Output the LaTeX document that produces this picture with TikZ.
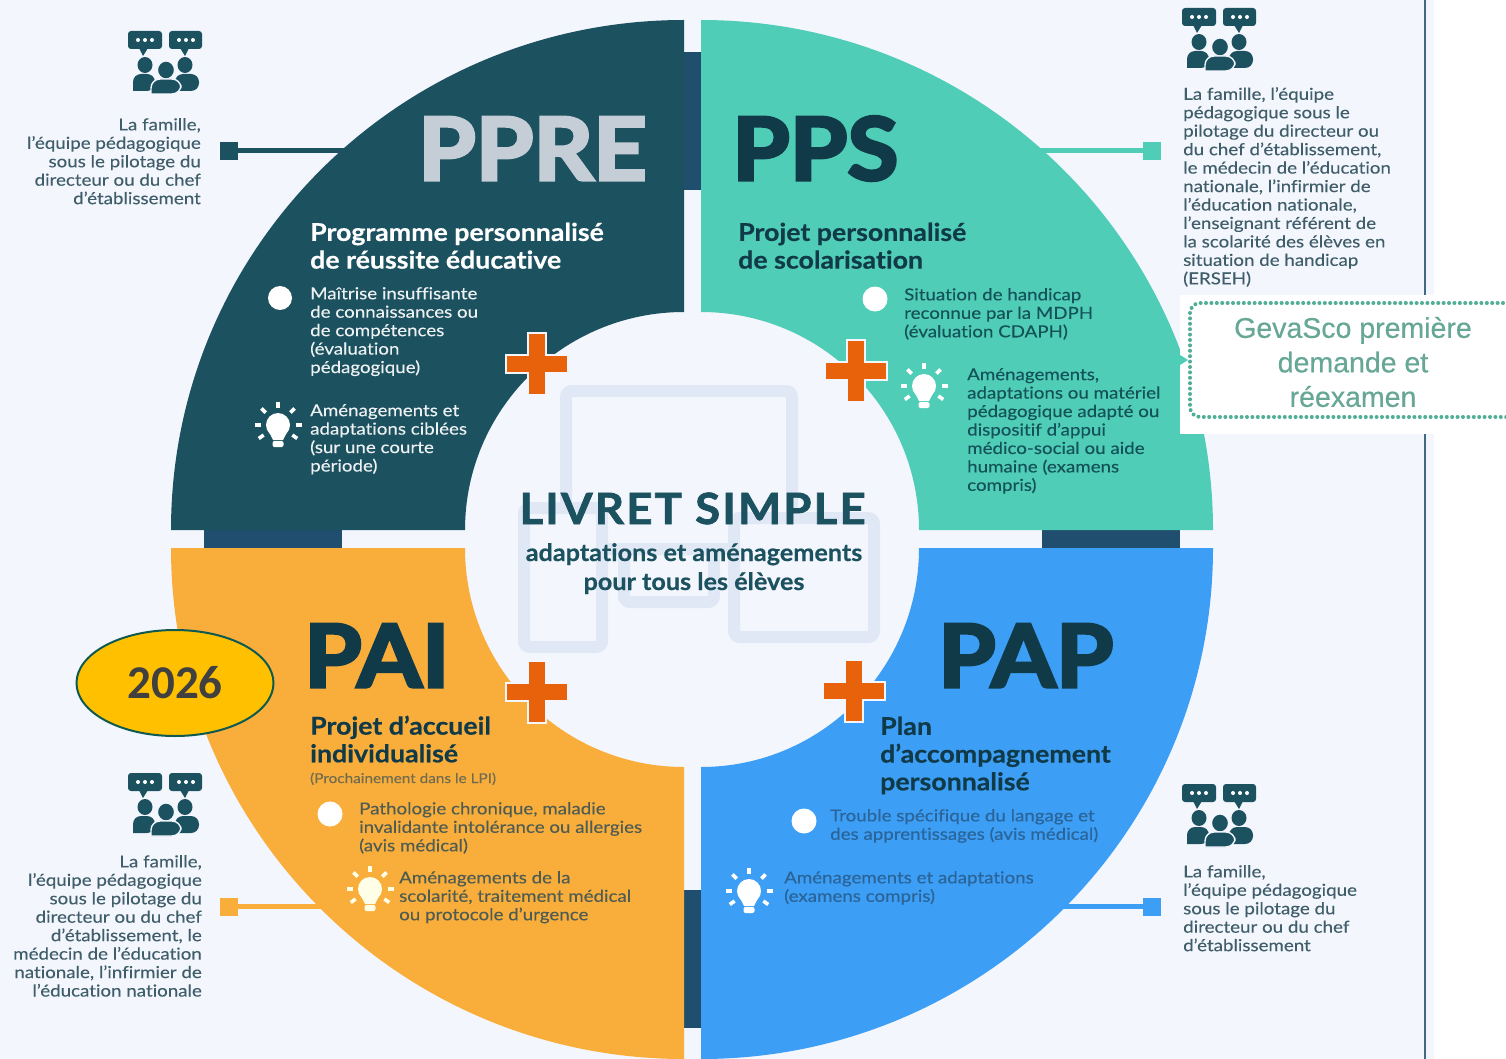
\documentclass[tikz,border=0pt]{standalone}
\usepackage{fontspec}
\usetikzlibrary{shapes.geometric}
\setmainfont{Lato}[FakeStretch=1.135,FakeBold=0.2,Ligatures=NoCommon]
\newfontfamily\liberation[FakeBold=0.4]{Liberation Sans}
\newfontfamily\carlito{Carlito}
\newfontfamily\heavyfont[FakeBold=3.6,FakeStretch=1.07,Ligatures=NoCommon]{Lato Bold}
\newfontfamily\headfont[FakeStretch=1.09,FakeBold=0.5,Ligatures=NoCommon]{Lato Bold}
\newfontfamily\livretfont[FakeBold=1.6,FakeStretch=1.06,LetterSpace=5,Ligatures=NoCommon]{Lato Bold}
\newfontfamily\subfont[FakeStretch=1.05,FakeBold=0.5,Ligatures=NoCommon]{Lato Bold}
\definecolor{bgc}{HTML}{F3F6FD}
\definecolor{ppre}{HTML}{1C5160}
\definecolor{pps}{HTML}{4FCDB6}
\definecolor{pai}{HTML}{F9AE3C}
\definecolor{pap}{HTML}{3C9EF5}
\definecolor{navy}{HTML}{1F4E6E}
\definecolor{wm}{HTML}{E0E7F5}
\definecolor{crossc}{HTML}{E8620C}
\definecolor{sidetxt}{HTML}{3F5E6A}
\definecolor{titledark}{HTML}{113A48}
\definecolor{ppstxt}{HTML}{14525A}
\definecolor{paitxt}{HTML}{4F5C52}
\definecolor{paptxt}{HTML}{2A6498}
\definecolor{geva}{HTML}{66A795}
\definecolor{gevaline}{HTML}{4FAE97}
\definecolor{pprelight}{HTML}{C5CED6}
\definecolor{yearfill}{HTML}{FFC000}
\definecolor{yearline}{HTML}{0F5A50}
\definecolor{yeartxt}{HTML}{404040}
\tikzset{
  x=1pt,y=1pt,
  txt/.style={inner sep=0pt,text=sidetxt,font=\fontsize{16.5}{18.45}\selectfont,execute at begin node=\strut},
  lefttxt/.style={txt,anchor=north west,align=left},
  righttxt/.style={txt,anchor=north east,align=right},
  headtxt/.style={inner sep=0pt,anchor=north west,align=left,font=\fontsize{24.5}{27.7}\headfont,execute at begin node=\strut},
  bigtitle/.style={inner sep=0pt,anchor=base west,font=\fontsize{87}{87}\heavyfont},
  sq/.style={minimum size=18pt,inner sep=0pt,draw=none},
  link/.style={line width=5pt},
  wmbox/.style={draw=wm,line width=12pt,rounded corners=6pt},
}
\newcommand{\peopleicon}[2]{%
\begin{scope}[shift={(#1,#2)}]
 \fill[ppre,rounded corners=3pt] (0,0) rectangle (34,-18);
 \fill[ppre] (11,-17)--(20,-17)--(15,-25)--cycle;
 \fill[ppre,rounded corners=3pt] (41,0) rectangle (74,-18);
 \fill[ppre] (52,-17)--(61,-17)--(57,-25)--cycle;
 \foreach \u in {10,17,24,51,58,65} \fill[white] (\u,-9) circle (2);
 \fill[ppre] (17,-34) ellipse [x radius=7.5,y radius=8];
 \fill[ppre] (57,-34) ellipse [x radius=7.5,y radius=8];
 \fill[ppre] (5,-60) [rounded corners=8pt] -- (5,-43) -- (27,-43) -- (27,-60) [sharp corners] -- cycle;
 \fill[ppre] (47,-60) [rounded corners=8pt] -- (47,-43) -- (71,-43) -- (71,-60) [sharp corners] -- cycle;
 \filldraw[fill=ppre,draw=bgc,line width=1.2pt] (38,-39) ellipse [x radius=8.5,y radius=9];
 \filldraw[fill=ppre,draw=bgc,line width=1.4pt] (23,-63) [rounded corners=9pt] -- (23,-48) -- (53,-48) -- (53,-63) [sharp corners] -- cycle;
\end{scope}}
\newcommand{\bulbicon}[3]{%
\begin{scope}[shift={(#1,#2)}]
 \foreach \a in {0,180,90,45,135,-35,-145}
   \draw[#3,line width=3.6pt] (\a:17.5) -- (\a:23.5);
 \fill[#3] (0,0) circle (12);
 \fill[#3] (-9,-7)--(9,-7)--(5,-15)--(-5,-15)--cycle;
 \fill[#3,rounded corners=2pt] (-5.5,-16) rectangle (5.5,-22);
\end{scope}}
\newcommand{\plusmark}[2]{%
\filldraw[shift={(#1,#2)},fill=crossc,draw=bgc,line width=2.6pt]
 (-9,31)--(9,31)--(9,9)--(31,9)--(31,-9)--(9,-9)--(9,-31)--(-9,-31)--(-9,-9)--(-31,-9)--(-31,9)--(-9,9)--cycle;}
\begin{document}
\begin{tikzpicture}
\useasboundingbox (0,0) rectangle (1506,-1059);
\fill[bgc] (0,0) rectangle (1506,-1059);
\fill[white] (1434,0) rectangle (1506,-1059);
\draw[navy!85,line width=2pt] (1424.5,0) -- (1424.5,-1059);

% bars between the quadrants
\fill[navy] (684,-52) rectangle (701,-190);
\fill[navy] (684,-890) rectangle (701,-1028);
\fill[navy] (204,-530) rectangle (342,-548);
\fill[navy] (1042,-530) rectangle (1180,-548);

% connectors
\node[sq,fill=ppre] (sqA) at (229,-151) {};
\coordinate (endA) at (360,-151);
\draw[link,ppre] (sqA) -- (endA);
\node[sq,fill=pps] (sqB) at (1152,-151) {};
\coordinate (endB) at (1030,-151);
\draw[link,pps] (sqB) -- (endB);
\node[sq,fill=pai] (sqC) at (229,-906.5) {};
\coordinate (endC) at (335,-906.5);
\draw[link,pai] (sqC) -- (endC);
\node[sq,fill=pap] (sqD) at (1152,-906.5) {};
\coordinate (endD) at (1050,-906.5);
\draw[link,pap] (sqD) -- (endD);

% quadrants
\fill[ppre] (171,-530) arc[start angle=180,end angle=90,x radius=513,y radius=510]
  -- (684,-312) arc[start angle=90,end angle=180,x radius=219,y radius=218] -- cycle;
\fill[pps] (701,-20) arc[start angle=90,end angle=0,x radius=512,y radius=510]
  -- (919,-530) arc[start angle=0,end angle=90,x radius=218,y radius=218] -- cycle;
\fill[pai] (171,-548) arc[start angle=180,end angle=270,x radius=513,y radius=511]
  -- (684,-767) arc[start angle=270,end angle=180,x radius=219,y radius=219] -- cycle;
\fill[pap] (701,-1059) arc[start angle=270,end angle=360,x radius=512,y radius=511]
  -- (919,-548) arc[start angle=0,end angle=-90,x radius=218,y radius=219] -- cycle;

% watermark in the centre
\draw[wmbox] (566,-391) rectangle (792,-549);
\draw[wmbox] (624,-549) rectangle (714,-602);
\filldraw[wmbox,fill=bgc] (524,-508) rectangle (602,-647);
\filldraw[wmbox,fill=bgc] (734,-518) rectangle (874,-637);

% plus marks
\plusmark{537}{-364}
\plusmark{856}{-371}
\plusmark{537}{-692}
\plusmark{854}{-691}

% big titles
\node[bigtitle,text=pprelight] (tPPRE) at (418,-180) {PPRE};
\node[bigtitle,text=titledark] (tPPS) at (732,-180) {PPS};
\node[bigtitle,text=titledark] (tPAI) at (304,-687) {PAI};
\node[bigtitle,text=titledark] (tPAP) at (938,-687) {PAP};

% headings
\node[headtxt,text=white] (hPPRE) at (310,-222.5) {Programme personnalisé\\de réussite éducative};
\node[headtxt,text=titledark] (hPPS) at (738,-222.5) {Projet personnalisé\\de scolarisation};
\node[headtxt,text=titledark] (hPAI) at (310,-715.5) {Projet d’accueil\\individualisé};
\node[headtxt,text=titledark] (hPAP) at (880,-716.5) {Plan\\d’accompagnement\\personnalisé};
\node[inner sep=0pt,anchor=base west,text=paitxt!80!pai,font=\fontsize{13.5}{15}\selectfont] (nPAI) at (310,-783) {(Prochainement dans le LPI)};

% PPRE
\node[fill=white,circle,minimum size=24pt,inner sep=0pt] (bA) at (280,-298) {};
\node[lefttxt,text=white!92!ppre] (aA) at (310,-287) {Maîtrise insuffisante\\de connaissances ou\\de compétences\\(évaluation\\pédagogique)};
\bulbicon{278}{-425}{white}
\node[lefttxt,text=white!92!ppre] (cA) at (310,-404) {Aménagements et\\adaptations ciblées\\(sur une courte\\période)};
% PPS
\node[fill=white,circle,minimum size=25pt,inner sep=0pt] (bB) at (875,-299) {};
\node[lefttxt,text=ppstxt] (aB) at (904,-288) {Situation de handicap\\reconnue par la MDPH\\(évaluation CDAPH)};
\bulbicon{924}{-386}{white}
\node[lefttxt,text=ppstxt] (cB) at (967,-368) {Aménagements,\\adaptations ou matériel\\pédagogique adapté ou\\dispositif d’appui\\médico-social ou aide\\humaine (examens\\compris)};
% PAI
\node[fill=white,circle,minimum size=25pt,inner sep=0pt] (bC) at (330,-814) {};
\node[lefttxt,text=paitxt] (aC) at (359,-802) {Pathologie chronique, maladie\\invalidante intolérance ou allergies\\(avis médical)};
\bulbicon{370}{-889}{white!90!yellow}
\node[lefttxt,text=paitxt] (cC) at (399,-871) {Aménagements de la\\scolarité, traitement médical\\ou protocole d’urgence};
% PAP
\node[fill=white,circle,minimum size=25pt,inner sep=0pt] (bD) at (804,-821) {};
\node[lefttxt,text=paptxt] (aD) at (830,-809) {Trouble spécifique du langage et\\des apprentissages (avis médical)};
\bulbicon{749}{-891}{white}
\node[lefttxt,text=paptxt] (cD) at (784,-871) {Aménagements et adaptations\\(examens compris)};

% people icons and side texts
\peopleicon{128}{-31}
\peopleicon{1182}{-8}
\peopleicon{128}{-773}
\peopleicon{1182}{-784}
\node[righttxt] (sA) at (201,-118) {La famille,\\l’équipe pédagogique\\sous le pilotage du\\directeur ou du chef\\d’établissement};
\node[lefttxt] (sB) at (1183,-87) {La famille, l’équipe\\pédagogique sous le\\pilotage du directeur ou\\du chef d’établissement,\\le médecin de l’éducation\\nationale, l’infirmier de\\l’éducation nationale,\\l’enseignant référent de\\la scolarité des élèves en\\situation de handicap\\(ERSEH)};
\node[righttxt] (sC) at (202,-855) {La famille,\\l’équipe pédagogique\\sous le pilotage du\\directeur ou du chef\\d’établissement, le\\médecin de l’éducation\\nationale, l’infirmier de\\l’éducation nationale};
\node[lefttxt] (sD) at (1183,-865) {La famille,\\l’équipe pédagogique\\sous le pilotage du\\directeur ou du chef\\d’établissement};

% centre text
\node[inner sep=0pt,anchor=base,text=ppre,font=\fontsize{43}{43}\livretfont] (lt) at (692.5,-524) {LIVRET SIMPLE};
\node[inner sep=0pt,anchor=base,text=ppre,font=\fontsize{24}{24}\subfont] (lt2) at (694,-561) {adaptations et aménagements};
\node[inner sep=0pt,anchor=base,text=ppre,font=\fontsize{24}{24}\subfont] (lt3) at (694,-590) {pour tous les élèves};

% GevaSco box
\fill[white] (1180,-295) rectangle (1506,-434);
\fill[pps] (1180,-355) -- (1188,-360) -- (1180,-365) -- cycle;
\draw[gevaline,line width=4pt,line cap=round,dash pattern=on 0pt off 5.4pt,rounded corners=10pt]
  (1530,-303) -- (1190,-303) -- (1190,-417) -- (1530,-417);
\node[inner sep=0pt,align=center,text=geva,font=\fontsize{28.5}{34.5}\liberation] (gv) at (1353,-362) {GevaSco première\\demande et\\réexamen};

% 2026
\node[ellipse,draw=yearline,fill=yearfill,line width=2pt,minimum width=197pt,minimum height=106pt,inner sep=0pt,text=yeartxt,font=\fontsize{47}{47}\carlito\bfseries] (yr) at (175,-683) {2026};
\end{tikzpicture}
\end{document}
